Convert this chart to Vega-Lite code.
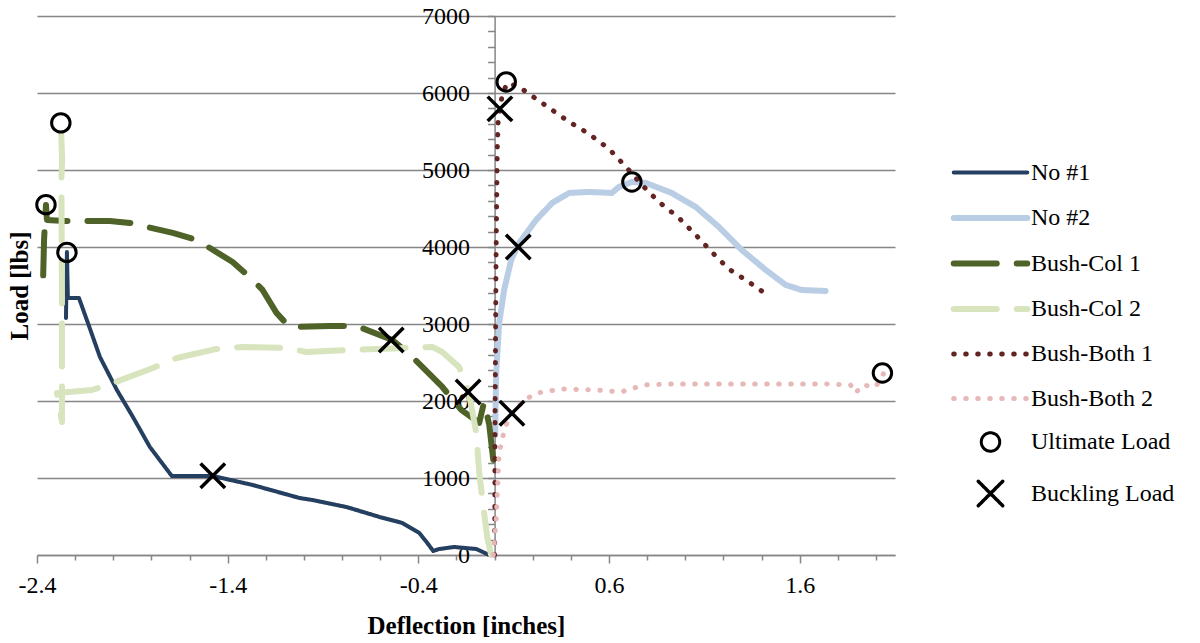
{
  "$schema": "https://vega.github.io/schema/vega-lite/v6.json",
  "width": 858,
  "height": 539,
  "autosize": {"type": "none"},
  "padding": {"left": 37, "top": 16, "right": 305, "bottom": 88},
  "background": "white",
  "config": {
    "view": {"stroke": null},
    "font": "Liberation Serif",
    "legend": {
      "orient": "none",
      "legendX": 936,
      "legendY": 140,
      "padding": 0,
      "labelFont": "Liberation Serif",
      "labelFontSize": 24,
      "labelColor": "#000000",
      "labelOffset": 23,
      "rowPadding": 15.5,
      "labelLimit": 300
    }
  },
  "datasets": {
    "curves": [
      {"s": "No #1", "i": 1, "x": -0.028, "y": 0},
      {"s": "No #1", "i": 2, "x": -0.096, "y": 78},
      {"s": "No #1", "i": 3, "x": -0.212, "y": 104},
      {"s": "No #1", "i": 4, "x": -0.29, "y": 78},
      {"s": "No #1", "i": 5, "x": -0.322, "y": 52},
      {"s": "No #1", "i": 6, "x": -0.353, "y": 156},
      {"s": "No #1", "i": 7, "x": -0.395, "y": 286},
      {"s": "No #1", "i": 8, "x": -0.484, "y": 416},
      {"s": "No #1", "i": 9, "x": -0.604, "y": 494},
      {"s": "No #1", "i": 10, "x": -0.777, "y": 623},
      {"s": "No #1", "i": 11, "x": -0.955, "y": 714},
      {"s": "No #1", "i": 12, "x": -1.023, "y": 740},
      {"s": "No #1", "i": 13, "x": -1.269, "y": 909},
      {"s": "No #1", "i": 14, "x": -1.478, "y": 1026},
      {"s": "No #1", "i": 15, "x": -1.693, "y": 1026},
      {"s": "No #1", "i": 16, "x": -1.808, "y": 1403},
      {"s": "No #1", "i": 17, "x": -1.897, "y": 1793},
      {"s": "No #1", "i": 18, "x": -1.981, "y": 2143},
      {"s": "No #1", "i": 19, "x": -2.07, "y": 2572},
      {"s": "No #1", "i": 20, "x": -2.133, "y": 3014},
      {"s": "No #1", "i": 21, "x": -2.18, "y": 3338},
      {"s": "No #1", "i": 22, "x": -2.238, "y": 3338},
      {"s": "No #1", "i": 23, "x": -2.243, "y": 3936},
      {"s": "No #1", "i": 24, "x": -2.248, "y": 3079},

      {"s": "No #2", "i": 1, "x": 0.003, "y": 1560},
      {"s": "No #2", "i": 2, "x": 0.008, "y": 2364},
      {"s": "No #2", "i": 3, "x": 0.024, "y": 3014},
      {"s": "No #2", "i": 4, "x": 0.05, "y": 3442},
      {"s": "No #2", "i": 5, "x": 0.087, "y": 3832},
      {"s": "No #2", "i": 6, "x": 0.129, "y": 4053},
      {"s": "No #2", "i": 7, "x": 0.218, "y": 4352},
      {"s": "No #2", "i": 8, "x": 0.302, "y": 4572},
      {"s": "No #2", "i": 9, "x": 0.391, "y": 4702},
      {"s": "No #2", "i": 10, "x": 0.495, "y": 4715},
      {"s": "No #2", "i": 11, "x": 0.615, "y": 4702},
      {"s": "No #2", "i": 12, "x": 0.652, "y": 4780},
      {"s": "No #2", "i": 13, "x": 0.72, "y": 4845},
      {"s": "No #2", "i": 14, "x": 0.793, "y": 4832},
      {"s": "No #2", "i": 15, "x": 0.929, "y": 4702},
      {"s": "No #2", "i": 16, "x": 1.055, "y": 4520},
      {"s": "No #2", "i": 17, "x": 1.176, "y": 4261},
      {"s": "No #2", "i": 18, "x": 1.296, "y": 3962},
      {"s": "No #2", "i": 19, "x": 1.422, "y": 3702},
      {"s": "No #2", "i": 20, "x": 1.527, "y": 3507},
      {"s": "No #2", "i": 21, "x": 1.61, "y": 3442},
      {"s": "No #2", "i": 22, "x": 1.736, "y": 3429},

      {"s": "Bush-Col 1", "i": 1, "x": -0.007, "y": 1234},
      {"s": "Bush-Col 1", "i": 2, "x": -0.028, "y": 1689},
      {"s": "Bush-Col 1", "i": 3, "x": -0.055, "y": 1987},
      {"s": "Bush-Col 1", "i": 4, "x": -0.081, "y": 1715},
      {"s": "Bush-Col 1", "i": 5, "x": -0.175, "y": 1884},
      {"s": "Bush-Col 1", "i": 6, "x": -0.274, "y": 2182},
      {"s": "Bush-Col 1", "i": 7, "x": -0.432, "y": 2572},
      {"s": "Bush-Col 1", "i": 8, "x": -0.536, "y": 2793},
      {"s": "Bush-Col 1", "i": 9, "x": -0.725, "y": 2975},
      {"s": "Bush-Col 1", "i": 10, "x": -0.866, "y": 2975},
      {"s": "Bush-Col 1", "i": 11, "x": -1.076, "y": 2962},
      {"s": "Bush-Col 1", "i": 12, "x": -1.144, "y": 3144},
      {"s": "Bush-Col 1", "i": 13, "x": -1.217, "y": 3442},
      {"s": "Bush-Col 1", "i": 14, "x": -1.285, "y": 3611},
      {"s": "Bush-Col 1", "i": 15, "x": -1.374, "y": 3806},
      {"s": "Bush-Col 1", "i": 16, "x": -1.563, "y": 4092},
      {"s": "Bush-Col 1", "i": 17, "x": -1.688, "y": 4183},
      {"s": "Bush-Col 1", "i": 18, "x": -1.913, "y": 4313},
      {"s": "Bush-Col 1", "i": 19, "x": -2.018, "y": 4339},
      {"s": "Bush-Col 1", "i": 20, "x": -2.254, "y": 4339},
      {"s": "Bush-Col 1", "i": 21, "x": -2.348, "y": 4352},
      {"s": "Bush-Col 1", "i": 22, "x": -2.353, "y": 4546},
      {"s": "Bush-Col 1", "i": 23, "x": -2.363, "y": 4092},
      {"s": "Bush-Col 1", "i": 24, "x": -2.369, "y": 3481},

      {"s": "Bush-Col 2", "i": 1, "x": -0.018, "y": 0},
      {"s": "Bush-Col 2", "i": 2, "x": -0.039, "y": 234},
      {"s": "Bush-Col 2", "i": 3, "x": -0.055, "y": 546},
      {"s": "Bush-Col 2", "i": 4, "x": -0.081, "y": 1078},
      {"s": "Bush-Col 2", "i": 5, "x": -0.096, "y": 1585},
      {"s": "Bush-Col 2", "i": 6, "x": -0.123, "y": 1949},
      {"s": "Bush-Col 2", "i": 7, "x": -0.144, "y": 2182},
      {"s": "Bush-Col 2", "i": 8, "x": -0.186, "y": 2442},
      {"s": "Bush-Col 2", "i": 9, "x": -0.275, "y": 2637},
      {"s": "Bush-Col 2", "i": 10, "x": -0.327, "y": 2702},
      {"s": "Bush-Col 2", "i": 11, "x": -0.761, "y": 2663},
      {"s": "Bush-Col 2", "i": 12, "x": -0.987, "y": 2637},
      {"s": "Bush-Col 2", "i": 13, "x": -1.091, "y": 2689},
      {"s": "Bush-Col 2", "i": 14, "x": -1.322, "y": 2702},
      {"s": "Bush-Col 2", "i": 15, "x": -1.458, "y": 2676},
      {"s": "Bush-Col 2", "i": 16, "x": -1.667, "y": 2559},
      {"s": "Bush-Col 2", "i": 17, "x": -1.792, "y": 2429},
      {"s": "Bush-Col 2", "i": 18, "x": -2.002, "y": 2234},
      {"s": "Bush-Col 2", "i": 19, "x": -2.112, "y": 2143},
      {"s": "Bush-Col 2", "i": 20, "x": -2.295, "y": 2104},
      {"s": "Bush-Col 2", "i": 21, "x": -2.269, "y": 1728},
      {"s": "Bush-Col 2", "i": 22, "x": -2.269, "y": 3312},
      {"s": "Bush-Col 2", "i": 23, "x": -2.272, "y": 4900},
      {"s": "Bush-Col 2", "i": 24, "x": -2.268, "y": 5131},
      {"s": "Bush-Col 2", "i": 25, "x": -2.275, "y": 5612},

      {"s": "Bush-Both 1", "i": 1, "x": 0.0, "y": 0},
      {"s": "Bush-Both 1", "i": 2, "x": 0.003, "y": 2013},
      {"s": "Bush-Both 1", "i": 3, "x": 0.008, "y": 3962},
      {"s": "Bush-Both 1", "i": 4, "x": 0.014, "y": 5261},
      {"s": "Bush-Both 1", "i": 5, "x": 0.019, "y": 5651},
      {"s": "Bush-Both 1", "i": 6, "x": 0.04, "y": 5975},
      {"s": "Bush-Both 1", "i": 7, "x": 0.066, "y": 6131},
      {"s": "Bush-Both 1", "i": 8, "x": 0.129, "y": 6079},
      {"s": "Bush-Both 1", "i": 9, "x": 0.181, "y": 5988},
      {"s": "Bush-Both 1", "i": 10, "x": 0.286, "y": 5807},
      {"s": "Bush-Both 1", "i": 11, "x": 0.391, "y": 5625},
      {"s": "Bush-Both 1", "i": 12, "x": 0.495, "y": 5469},
      {"s": "Bush-Both 1", "i": 13, "x": 0.6, "y": 5274},
      {"s": "Bush-Both 1", "i": 14, "x": 0.689, "y": 5040},
      {"s": "Bush-Both 1", "i": 15, "x": 0.773, "y": 4806},
      {"s": "Bush-Both 1", "i": 16, "x": 0.862, "y": 4585},
      {"s": "Bush-Both 1", "i": 17, "x": 0.967, "y": 4377},
      {"s": "Bush-Both 1", "i": 18, "x": 1.055, "y": 4157},
      {"s": "Bush-Both 1", "i": 19, "x": 1.139, "y": 3936},
      {"s": "Bush-Both 1", "i": 20, "x": 1.228, "y": 3715},
      {"s": "Bush-Both 1", "i": 21, "x": 1.333, "y": 3546},
      {"s": "Bush-Both 1", "i": 22, "x": 1.438, "y": 3364},

      {"s": "Bush-Both 2", "i": 1, "x": -0.007, "y": 0},
      {"s": "Bush-Both 2", "i": 2, "x": 0.008, "y": 455},
      {"s": "Bush-Both 2", "i": 3, "x": 0.024, "y": 1325},
      {"s": "Bush-Both 2", "i": 4, "x": 0.055, "y": 1663},
      {"s": "Bush-Both 2", "i": 5, "x": 0.103, "y": 1884},
      {"s": "Bush-Both 2", "i": 6, "x": 0.165, "y": 2026},
      {"s": "Bush-Both 2", "i": 7, "x": 0.223, "y": 2104},
      {"s": "Bush-Both 2", "i": 8, "x": 0.349, "y": 2156},
      {"s": "Bush-Both 2", "i": 9, "x": 0.537, "y": 2143},
      {"s": "Bush-Both 2", "i": 10, "x": 0.662, "y": 2117},
      {"s": "Bush-Both 2", "i": 11, "x": 0.783, "y": 2208},
      {"s": "Bush-Both 2", "i": 12, "x": 0.914, "y": 2221},
      {"s": "Bush-Both 2", "i": 13, "x": 1.333, "y": 2221},
      {"s": "Bush-Both 2", "i": 14, "x": 1.741, "y": 2221},
      {"s": "Bush-Both 2", "i": 15, "x": 1.867, "y": 2208},
      {"s": "Bush-Both 2", "i": 16, "x": 1.893, "y": 2104},
      {"s": "Bush-Both 2", "i": 17, "x": 1.93, "y": 2208},
      {"s": "Bush-Both 2", "i": 18, "x": 1.998, "y": 2182},
      {"s": "Bush-Both 2", "i": 19, "x": 2.039, "y": 2351}
    ],
    "markers": [
      {"s": "Ultimate Load", "x": -2.243, "y": 3930},
      {"s": "Ultimate Load", "x": 0.72, "y": 4845},
      {"s": "Ultimate Load", "x": -2.353, "y": 4550},
      {"s": "Ultimate Load", "x": -2.275, "y": 5612},
      {"s": "Ultimate Load", "x": 0.061, "y": 6144},
      {"s": "Ultimate Load", "x": 2.034, "y": 2364},
      {"s": "Buckling Load", "x": -1.478, "y": 1030},
      {"s": "Buckling Load", "x": 0.124, "y": 4001},
      {"s": "Buckling Load", "x": -0.542, "y": 2793},
      {"s": "Buckling Load", "x": -0.139, "y": 2117},
      {"s": "Buckling Load", "x": 0.028, "y": 5794},
      {"s": "Buckling Load", "x": 0.091, "y": 1841}
    ]
  },
  "layer": [
    {
      "data": {"name": "curves"},
      "mark": {"type": "line", "strokeCap": "round", "strokeJoin": "round", "opacity": 1},
      "encoding": {
        "x": {
          "field": "x", "type": "quantitative",
          "scale": {"domain": [-2.4, 2.1], "nice": false, "zero": false},
          "axis": {
            "title": "Deflection [inches]",
            "titleFont": "Liberation Serif", "titleFontSize": 25, "titleFontWeight": "bold", "titleColor": "#000000",
            "titleY": 70, "titleBaseline": "middle",
            "values": [-2.4, -2.2, -2.0, -1.8, -1.6, -1.4, -1.2, -1.0, -0.8, -0.6, -0.4, -0.2, 0, 0.2, 0.4, 0.6, 0.8, 1.0, 1.2, 1.4, 1.6, 1.8, 2.0],
            "tickCount": 200,
            "labelExpr": "abs(datum.value + 2.4 - round(datum.value + 2.4)) < 0.01 ? (datum.value < 0 ? '-' : '') + format(abs(datum.value), '.1f') : ''",
            "labelFont": "Liberation Serif", "labelFontSize": 24, "labelColor": "#000000",
            "labelPadding": 10, "labelOverlap": false, "labelFlush": false,
            "tickColor": "#868686", "tickWidth": 1.5,
            "tickSize": {"condition": {"test": "abs(datum.value + 2.4 - round(datum.value + 2.4)) < 0.01", "value": 8}, "value": 5},
            "domainColor": "#868686", "domainWidth": 1.5,
            "grid": false
          }
        },
        "y": {
          "field": "y", "type": "quantitative",
          "scale": {"domain": [0, 7000], "nice": false},
          "axis": {
            "title": "Load [lbs]",
            "titleFont": "Liberation Serif", "titleFontSize": 25, "titleFontWeight": "bold", "titleColor": "#000000",
            "titleAngle": -90, "titleX": -475.6, "titleY": 269.5, "titleAlign": "center", "titleBaseline": "middle",
            "offset": -457.6,
            "values": [0, 200, 400, 600, 800, 1000, 1200, 1400, 1600, 1800, 2000, 2200, 2400, 2600, 2800, 3000, 3200, 3400, 3600, 3800, 4000, 4200, 4400, 4600, 4800, 5000, 5200, 5400, 5600, 5800, 6000, 6200, 6400, 6600, 6800, 7000],
            "tickCount": 200,
            "labelExpr": "datum.value % 1000 == 0 ? format(datum.value, 'd') : ''",
            "labelFont": "Liberation Serif", "labelFontSize": 24, "labelColor": "#000000",
            "labelPadding": 18, "labelOverlap": false,
            "tickColor": "#868686", "tickWidth": 1.5, "tickSize": 7,
            "domainColor": "#868686", "domainWidth": 1.5,
            "grid": true, "gridColor": "#868686", "gridWidth": 1.5,
            "gridOpacity": {"condition": {"test": "datum.value % 1000 == 0", "value": 1}, "value": 0}
          }
        },
        "order": {"field": "i", "type": "quantitative"},
        "color": {
          "field": "s", "type": "nominal",
          "scale": {
            "domain": ["No #1", "No #2", "Bush-Col 1", "Bush-Col 2", "Bush-Both 1", "Bush-Both 2", "Ultimate Load", "Buckling Load"],
            "range": ["#243F60", "#B9CDE5", "#4F6228", "#D7E4BD", "#632523", "#E6B9B8", "#000000", "#000000"]
          },
          "legend": {"title": null, "encoding": {"symbols": {"strokeCap": {"value": "round"}}}}
        },
        "strokeDash": {
          "field": "s", "type": "nominal",
          "scale": {
            "domain": ["No #1", "No #2", "Bush-Col 1", "Bush-Col 2", "Bush-Both 1", "Bush-Both 2", "Ultimate Load", "Buckling Load"],
            "range": [[1, 0], [1, 0], [43, 20], [43, 20], [0.5, 11.5], [0.5, 11.5], [1, 0], [1, 0]]
          },
          "legend": {"title": null, "encoding": {"symbols": {"strokeCap": {"value": "round"}}}}
        },
        "strokeWidth": {
          "field": "s", "type": "nominal",
          "scale": {
            "type": "ordinal",
            "domain": ["No #1", "No #2", "Bush-Col 1", "Bush-Col 2", "Bush-Both 1", "Bush-Both 2", "Ultimate Load", "Buckling Load"],
            "range": [4, 6, 6, 6, 5, 5, 3, 3.5]
          },
          "legend": {"title": null, "encoding": {"symbols": {"strokeCap": {"value": "round"}}}}
        }
      }
    },
    {
      "data": {"name": "markers"},
      "mark": {"type": "point", "filled": false, "opacity": 1},
      "encoding": {
        "x": {"field": "x", "type": "quantitative"},
        "y": {"field": "y", "type": "quantitative"},
        "color": {
          "field": "s", "type": "nominal",
          "scale": {
            "domain": ["No #1", "No #2", "Bush-Col 1", "Bush-Col 2", "Bush-Both 1", "Bush-Both 2", "Ultimate Load", "Buckling Load"],
            "range": ["#243F60", "#B9CDE5", "#4F6228", "#D7E4BD", "#632523", "#E6B9B8", "#000000", "#000000"]
          },
          "legend": {"title": null, "encoding": {"symbols": {"strokeCap": {"value": "round"}}}}
        },
        "shape": {
          "field": "s", "type": "nominal",
          "scale": {
            "domain": ["No #1", "No #2", "Bush-Col 1", "Bush-Col 2", "Bush-Both 1", "Bush-Both 2", "Ultimate Load", "Buckling Load"],
            "range": ["M-2.6,0L2.6,0", "M-2.6,0L2.6,0", "M-2.6,0L2.6,0", "M-2.6,0L2.6,0", "M-2.6,0L2.6,0", "M-2.6,0L2.6,0", "circle", "M-1,-1L1,1M-1,1L1,-1"]
          },
          "legend": {"title": null, "encoding": {"symbols": {"strokeCap": {"value": "round"}}}}
        },
        "size": {
          "field": "s", "type": "nominal",
          "scale": {
            "type": "ordinal",
            "domain": ["No #1", "No #2", "Bush-Col 1", "Bush-Col 2", "Bush-Both 1", "Bush-Both 2", "Ultimate Load", "Buckling Load"],
            "range": [800, 800, 800, 800, 800, 800, 340, 600]
          },
          "legend": {"title": null, "encoding": {"symbols": {"strokeCap": {"value": "round"}}}}
        },
        "strokeWidth": {
          "field": "s", "type": "nominal",
          "scale": {
            "type": "ordinal",
            "domain": ["No #1", "No #2", "Bush-Col 1", "Bush-Col 2", "Bush-Both 1", "Bush-Both 2", "Ultimate Load", "Buckling Load"],
            "range": [4, 6, 6, 6, 5, 5, 3, 3.5]
          },
          "legend": {"title": null, "encoding": {"symbols": {"strokeCap": {"value": "round"}}}}
        }
      }
    }
  ]
}
